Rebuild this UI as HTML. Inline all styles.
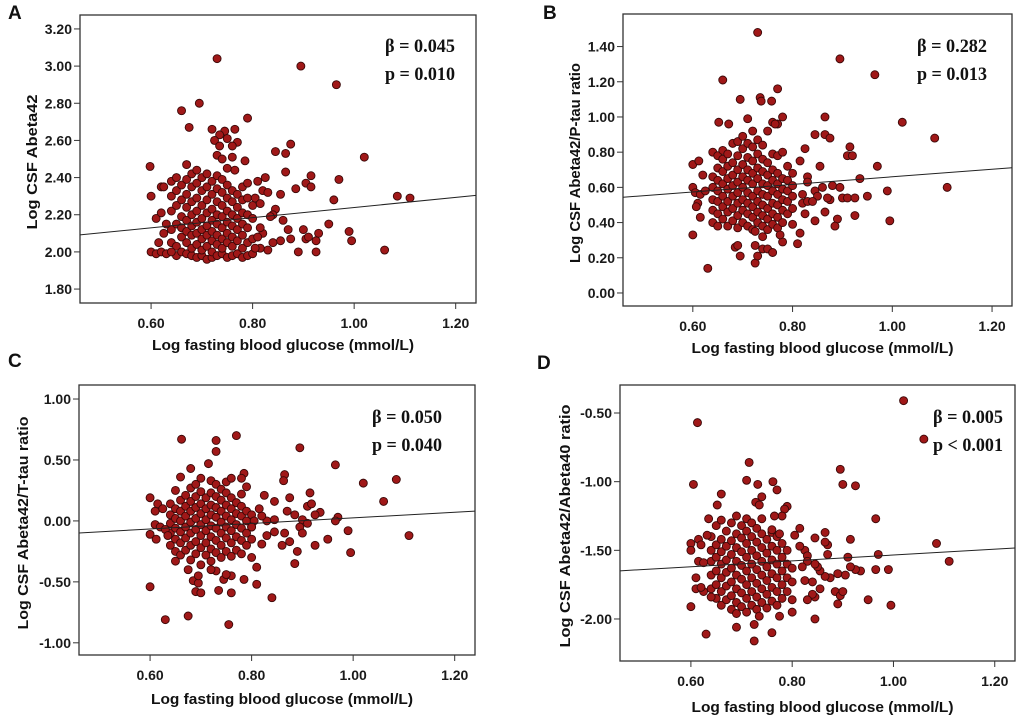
<!DOCTYPE html>
<html><head><meta charset="utf-8"><style>
html,body{margin:0;padding:0;background:#fff;}
svg{display:block;}
.tk{font-family:"Liberation Sans",sans-serif;font-weight:bold;font-size:14px;fill:#1a1a1a;}
.tt{font-family:"Liberation Sans",sans-serif;font-weight:bold;font-size:15px;fill:#111;}
.st{font-family:"Liberation Serif",serif;font-weight:bold;font-size:19px;fill:#111;}
.pl{font-family:"Liberation Sans",sans-serif;font-weight:bold;font-size:19px;fill:#111;}
</style></head><body>
<svg id="fig" width="1020" height="719" viewBox="0 0 1020 719"></svg>
<script>
// ---------- data ----------
const xTicks = [0.60, 0.80, 1.00, 1.20];
const xTickLabels = ["0.60", "0.80", "1.00", "1.20"];
const yTicksA = [1.80, 2.00, 2.20, 2.40, 2.60, 2.80, 3.00, 3.20];
const yTicksB = [0.00, 0.20, 0.40, 0.60, 0.80, 1.00, 1.20, 1.40];
const yTicksC = [-1.00, -0.50, 0.00, 0.50, 1.00];
const yTicksD = [-2.00, -1.50, -1.00, -0.50];
const fitA = [1.966, 0.273];
const fitB = [0.445, 0.215];
const fitC = [-0.204, 0.229];
const fitD = [-1.748, 0.214];
const statsA = ["β = 0.045", "p = 0.010"];
const statsB = ["β = 0.282", "p = 0.013"];
const statsC = ["β = 0.050", "p = 0.040"];
const statsD = ["β = 0.005", "p < 0.001"];

const pointsA = [[0.73,3.04],[0.895,3.00],[0.965,2.90],[0.66,2.76],[0.695,2.80],[0.79,2.72],[0.675,2.67],[0.72,2.66],[0.745,2.65],[0.765,2.66],[0.735,2.63],[0.75,2.61],[0.725,2.60],[0.77,2.59],[0.735,2.57],[0.76,2.57],[0.875,2.58],[0.845,2.54],[0.865,2.53],[1.02,2.51],[0.73,2.52],[0.76,2.51],[0.74,2.50],[0.785,2.49],[0.67,2.47],[0.598,2.46],[0.865,2.43],[0.765,2.44],[0.75,2.45],[0.915,2.41],[0.97,2.39],[0.825,2.40],[0.81,2.38],[0.79,2.37],[0.905,2.37],[0.915,2.35],[0.62,2.35],[0.885,2.34],[0.60,2.30],[0.855,2.31],[0.82,2.33],[0.83,2.32],[0.96,2.28],[1.085,2.30],[1.11,2.29],[0.805,2.29],[0.815,2.26],[0.845,2.23],[0.84,2.20],[0.835,2.19],[0.86,2.17],[0.95,2.15],[0.93,2.10],[0.90,2.12],[0.87,2.12],[0.99,2.11],[0.995,2.06],[0.905,2.07],[0.91,2.08],[0.875,2.07],[0.925,2.06],[0.855,2.06],[0.84,2.05],[0.89,2.00],[0.925,2.00],[1.06,2.01],[0.83,2.01],[0.815,2.02],[0.805,2.02],[0.82,2.10],[0.81,2.08],[0.815,2.13],[0.60,2.00],[0.61,1.99],[0.62,2.00],[0.63,1.99],[0.64,2.00],[0.615,2.05],[0.625,2.10],[0.61,2.18],[0.62,2.21],[0.63,2.15],[0.625,2.35]];
const coreA = [[0.64,[2.05,2.12,2.22,2.30,2.38]],[0.65,[1.98,2.03,2.15,2.25,2.33,2.40]],[0.66,[2.00,2.08,2.13,2.19,2.28,2.36]],[0.67,[1.99,2.05,2.11,2.17,2.24,2.31,2.39]],[0.68,[1.98,2.02,2.09,2.14,2.20,2.27,2.35,2.42]],[0.69,[1.97,2.04,2.10,2.16,2.22,2.29,2.37,2.44]],[0.70,[1.98,2.01,2.07,2.12,2.18,2.25,2.33,2.40]],[0.71,[1.96,2.03,2.09,2.14,2.21,2.28,2.35,2.42]],[0.72,[1.97,2.00,2.06,2.11,2.17,2.23,2.31,2.38]],[0.73,[1.98,2.04,2.09,2.15,2.20,2.27,2.34,2.41]],[0.74,[1.99,2.02,2.07,2.13,2.19,2.25,2.32,2.39]],[0.75,[1.97,2.05,2.10,2.16,2.22,2.29,2.36]],[0.76,[1.98,2.03,2.08,2.14,2.20,2.27,2.33]],[0.77,[1.99,2.06,2.12,2.18,2.24,2.31]],[0.78,[1.97,2.02,2.09,2.15,2.21,2.28,2.35]],[0.79,[1.98,2.05,2.13,2.20,2.29]],[0.80,[1.99,2.07,2.18,2.25]]];

const pointsB = [[0.73,1.48],[0.895,1.33],[0.965,1.24],[0.66,1.21],[0.77,1.16],[0.695,1.10],[0.735,1.11],[0.737,1.09],[0.758,1.09],[0.71,0.99],[0.78,1.00],[0.865,1.00],[0.652,0.97],[0.672,0.96],[0.76,0.97],[0.765,0.96],[1.02,0.97],[0.845,0.90],[0.865,0.90],[0.875,0.88],[1.085,0.88],[0.915,0.83],[0.91,0.78],[0.92,0.78],[0.825,0.82],[0.60,0.73],[0.612,0.75],[0.855,0.72],[0.97,0.72],[0.815,0.75],[0.935,0.65],[0.62,0.67],[0.95,0.55],[0.99,0.58],[1.11,0.60],[0.90,0.54],[0.91,0.54],[0.925,0.54],[0.875,0.53],[0.88,0.61],[0.895,0.60],[0.865,0.46],[0.845,0.41],[0.89,0.42],[0.885,0.38],[0.925,0.44],[0.995,0.41],[0.60,0.33],[0.825,0.45],[0.815,0.34],[0.81,0.28],[0.78,0.29],[0.775,0.33],[0.63,0.14],[0.725,0.17],[0.73,0.21],[0.695,0.21],[0.685,0.26],[0.69,0.27],[0.725,0.27],[0.74,0.25],[0.75,0.25],[0.76,0.23],[0.725,0.35],[0.74,0.32],[0.61,0.51],[0.607,0.49],[0.615,0.43],[0.60,0.60],[0.605,0.57],[0.615,0.56],[0.625,0.58],[0.83,0.66],[0.83,0.63],[0.845,0.58],[0.85,0.55],[0.86,0.60],[0.87,0.54],[0.82,0.56],[0.82,0.51],[0.83,0.52],[0.84,0.52]];
const coreB = [[0.64,[0.40,0.47,0.53,0.60,0.66,0.80]],[0.65,[0.38,0.45,0.52,0.58,0.64,0.71,0.78]],[0.66,[0.42,0.49,0.55,0.62,0.69,0.76,0.81]],[0.67,[0.38,0.46,0.52,0.59,0.65,0.72,0.79]],[0.68,[0.41,0.48,0.55,0.61,0.67,0.74,0.85]],[0.69,[0.37,0.44,0.51,0.57,0.63,0.70,0.78,0.86]],[0.70,[0.40,0.47,0.53,0.60,0.66,0.73,0.82,0.89]],[0.71,[0.38,0.45,0.51,0.57,0.64,0.70,0.77,0.85]],[0.72,[0.36,0.43,0.49,0.55,0.62,0.68,0.75,0.83,0.92]],[0.73,[0.40,0.46,0.52,0.58,0.65,0.71,0.79,0.87]],[0.74,[0.38,0.44,0.50,0.56,0.62,0.69,0.76,0.84]],[0.75,[0.36,0.42,0.48,0.55,0.61,0.67,0.74,0.92]],[0.76,[0.39,0.45,0.51,0.58,0.64,0.70,0.79]],[0.77,[0.37,0.43,0.50,0.56,0.62,0.68,0.78,0.96]],[0.78,[0.40,0.47,0.53,0.59,0.65,0.80]],[0.79,[0.45,0.52,0.58,0.64,0.72]],[0.80,[0.39,0.48,0.55,0.61,0.68]]];

const pointsC = [[0.662,0.67],[0.73,0.66],[0.77,0.70],[0.73,0.57],[0.895,0.60],[0.965,0.46],[0.715,0.47],[0.68,0.43],[1.02,0.31],[1.085,0.34],[1.06,0.16],[0.865,0.38],[0.863,0.33],[0.785,0.39],[0.78,0.35],[0.79,0.28],[0.915,0.23],[0.875,0.19],[0.825,0.21],[0.845,0.16],[0.91,0.12],[0.918,0.14],[0.87,0.08],[0.885,0.05],[0.935,0.07],[0.925,0.05],[0.97,0.03],[0.965,0.00],[0.90,0.01],[0.895,-0.05],[0.91,-0.02],[0.90,-0.10],[0.99,-0.08],[1.11,-0.12],[0.995,-0.26],[0.95,-0.15],[0.925,-0.20],[0.875,-0.17],[0.86,-0.20],[0.865,-0.10],[0.845,-0.09],[0.83,-0.12],[0.82,-0.19],[0.89,-0.25],[0.885,-0.35],[0.81,-0.38],[0.81,-0.52],[0.84,-0.63],[0.60,-0.54],[0.63,-0.81],[0.675,-0.78],[0.755,-0.85],[0.735,-0.57],[0.69,-0.58],[0.70,-0.59],[0.76,-0.59],[0.785,-0.48],[0.745,-0.48],[0.76,-0.45],[0.75,-0.44],[0.73,-0.41],[0.72,-0.40],[0.685,-0.49],[0.695,-0.51],[0.695,-0.45],[0.65,-0.33],[0.675,-0.40],[0.60,0.19],[0.61,0.08],[0.60,-0.11],[0.612,-0.15],[0.61,-0.03],[0.615,0.14],[0.625,0.10],[0.62,-0.05],[0.63,-0.07],[0.635,-0.12],[0.83,0.00],[0.845,0.01],[0.82,0.04],[0.805,0.00],[0.815,0.10],[0.80,-0.05]];
const coreC = [[0.64,[-0.20,-0.10,-0.02,0.05,0.14]],[0.65,[-0.25,-0.15,-0.06,0.02,0.10,0.25]],[0.66,[-0.28,-0.18,-0.09,0.00,0.08,0.17,0.36]],[0.67,[-0.24,-0.14,-0.05,0.04,0.12,0.21]],[0.68,[-0.32,-0.20,-0.10,-0.01,0.08,0.16,0.27]],[0.69,[-0.27,-0.17,-0.07,0.02,0.11,0.20,0.30]],[0.70,[-0.36,-0.22,-0.12,-0.03,0.06,0.14,0.24,0.35]],[0.71,[-0.28,-0.18,-0.08,0.01,0.10,0.19]],[0.72,[-0.33,-0.23,-0.13,-0.04,0.05,0.13,0.23,0.33]],[0.73,[-0.26,-0.16,-0.06,0.03,0.11,0.20,0.30]],[0.74,[-0.30,-0.20,-0.10,-0.01,0.08,0.17,0.26]],[0.75,[-0.25,-0.14,-0.05,0.04,0.13,0.23,0.32]],[0.76,[-0.29,-0.18,-0.08,0.01,0.10,0.19,0.35]],[0.77,[-0.24,-0.13,-0.03,0.06,0.15]],[0.78,[-0.27,-0.16,-0.06,0.04,0.12,0.22]],[0.79,[-0.20,-0.10,0.00,0.08]],[0.80,[-0.30,-0.15,-0.05,0.05]]];

const pointsD = [[1.02,-0.41],[0.613,-0.57],[1.06,-0.69],[0.715,-0.86],[0.895,-0.91],[0.90,-1.02],[0.925,-1.03],[0.605,-1.02],[0.71,-0.99],[0.732,-1.02],[0.762,-1.00],[0.77,-1.06],[0.74,-1.11],[0.728,-1.15],[0.735,-1.17],[0.66,-1.09],[0.652,-1.17],[0.965,-1.27],[0.635,-1.27],[0.632,-1.39],[0.60,-1.45],[0.60,-1.50],[0.615,-1.42],[0.62,-1.46],[0.615,-1.58],[0.625,-1.59],[0.60,-1.91],[0.63,-2.11],[0.69,-2.06],[0.725,-2.04],[0.725,-2.16],[0.76,-2.10],[0.775,-1.98],[0.735,-1.98],[0.845,-2.00],[0.80,-1.95],[0.845,-1.84],[0.84,-1.82],[0.855,-1.78],[0.84,-1.73],[0.885,-1.80],[0.895,-1.83],[0.90,-1.80],[0.89,-1.89],[0.95,-1.86],[0.995,-1.90],[0.99,-1.64],[0.965,-1.64],[0.935,-1.65],[0.925,-1.64],[0.915,-1.62],[0.91,-1.55],[0.905,-1.68],[0.89,-1.67],[0.875,-1.70],[0.865,-1.69],[0.855,-1.65],[0.85,-1.62],[0.845,-1.60],[0.87,-1.46],[0.865,-1.44],[0.865,-1.37],[0.915,-1.42],[0.97,-1.53],[0.87,-1.53],[0.845,-1.41],[0.815,-1.34],[0.805,-1.39],[1.085,-1.45],[1.11,-1.58],[0.825,-1.50],[0.83,-1.54],[0.83,-1.58],[0.82,-1.62],[0.815,-1.47],[0.825,-1.72],[0.83,-1.86],[0.79,-1.18],[0.785,-1.20],[0.78,-1.25],[0.765,-1.25],[0.76,-1.35],[0.775,-1.38],[0.64,-1.84],[0.625,-1.80],[0.61,-1.70],[0.61,-1.78],[0.62,-1.77]];
const coreD = [[0.64,[-1.78,-1.68,-1.58,-1.50,-1.40]],[0.65,[-1.85,-1.75,-1.65,-1.55,-1.46,-1.32]],[0.66,[-1.90,-1.80,-1.70,-1.60,-1.51,-1.42,-1.28]],[0.67,[-1.86,-1.76,-1.66,-1.57,-1.47,-1.36]],[0.68,[-1.93,-1.83,-1.73,-1.63,-1.53,-1.43,-1.30]],[0.69,[-1.96,-1.88,-1.78,-1.68,-1.58,-1.48,-1.38,-1.25]],[0.70,[-1.91,-1.81,-1.71,-1.61,-1.51,-1.41,-1.32]],[0.71,[-1.95,-1.85,-1.75,-1.65,-1.55,-1.45,-1.36,-1.27]],[0.72,[-1.90,-1.80,-1.70,-1.60,-1.50,-1.40,-1.30]],[0.73,[-1.93,-1.84,-1.74,-1.64,-1.54,-1.44,-1.34]],[0.74,[-1.88,-1.78,-1.68,-1.58,-1.48,-1.38,-1.27]],[0.75,[-1.92,-1.82,-1.72,-1.62,-1.52,-1.42]],[0.76,[-1.87,-1.77,-1.67,-1.57,-1.47,-1.37]],[0.77,[-1.90,-1.80,-1.70,-1.60,-1.50,-1.40]],[0.78,[-1.85,-1.75,-1.65,-1.55,-1.45]],[0.79,[-1.80,-1.70,-1.60,-1.50]],[0.80,[-1.86,-1.73,-1.63]]];

// ---------- layout ----------
const NS = "http://www.w3.org/2000/svg";
const svg = document.getElementById('fig');
function mk(tag, attrs, parent) {
  const e = document.createElementNS(NS, tag);
  for (const k in attrs) e.setAttribute(k, attrs[k]);
  (parent || svg).appendChild(e);
  return e;
}
const panels = [
  {id:'a', letter:'A', lx:8, ly:19, L:80, R:476, T:15, B:303, y0:1.725, y1:3.275, yt:yTicksA, dec:2, pts:pointsA, core:coreA, fit:fitA, stats:statsA, sx:385, sy:52,
   ytitle:'Log CSF Abeta42', ytx:32, ytl:135, xty:350},
  {id:'b', letter:'B', lx:543, ly:19, L:623, R:1012, T:14, B:306, y0:-0.074, y1:1.585, yt:yTicksB, dec:2, pts:pointsB, core:coreB, fit:fitB, stats:statsB, sx:917, sy:52,
   ytitle:'Log CSF Abeta42/P-tau ratio', ytx:575, ytl:200, xty:353},
  {id:'c', letter:'C', lx:8, ly:367, L:79, R:475, T:385, B:655, y0:-1.10, y1:1.115, yt:yTicksC, dec:2, pts:pointsC, core:coreC, fit:fitC, stats:statsC, sx:372, sy:423,
   ytitle:'Log CSF Abeta42/T-tau ratio', ytx:23, ytl:213, xty:704},
  {id:'d', letter:'D', lx:537, ly:369, L:620, R:1015, T:385, B:661, y0:-2.306, y1:-0.296, yt:yTicksD, dec:2, pts:pointsD, core:coreD, fit:fitD, stats:statsD, sx:933, sy:423,
   ytitle:'Log CSF Abeta42/Abeta40 ratio', ytx:565, ytl:243, xty:712}
];
const X0 = 0.46, X1 = 1.24;

panels.forEach(p => {
  const g = mk('g', {});
  
  
  const xs = v => p.L + (v - X0) / (X1 - X0) * (p.R - p.L);
  const ys = v => p.B - (v - p.y0) / (p.y1 - p.y0) * (p.B - p.T);

  const lt = mk('text', {x:p.lx, y:p.ly, class:'pl'}, g);
  lt.textContent = p.letter;
  
  

  const fr = mk('rect', {x:p.L, y:p.T, width:p.R-p.L, height:p.B-p.T, fill:'#fff', stroke:'#333', 'stroke-width':1.3}, g);
  
  

  xTicks.forEach((v, i) => {
    const x = xs(v);
    const t = mk('line', {x1:x, x2:x, y1:p.B, y2:p.B+6, stroke:'#333', 'stroke-width':1}, g);
    
    
    const tx = mk('text', {x:x, y:p.B+25, 'text-anchor':'middle', class:'tk'}, g);
    tx.textContent = xTickLabels[i];
    
    
  });
  p.yt.forEach(v => {
    const y = ys(v);
    const t = mk('line', {x1:p.L-6, x2:p.L, y1:y, y2:y, stroke:'#333', 'stroke-width':1}, g);
    
    
    const tx = mk('text', {x:p.L-8, y:y+5, 'text-anchor':'end', class:'tk'}, g);
    tx.textContent = v.toFixed(p.dec);
    
    
  });
  const xt = mk('text', {x:(p.L+p.R)/2 + 5, y:p.xty, 'text-anchor':'middle', class:'tt', textLength:262, lengthAdjust:'spacingAndGlyphs'}, g);
  xt.textContent = 'Log fasting blood glucose (mmol/L)';
  
  
  const cy = (p.T + p.B) / 2 + 3;
  const yt = mk('text', {x:p.ytx, y:cy, 'text-anchor':'middle', class:'tt', transform:`rotate(-90 ${p.ytx} ${cy})`, dy:5, textLength:p.ytl, lengthAdjust:'spacingAndGlyphs'}, g);
  yt.textContent = p.ytitle;
  
  

  const dg = mk('g', {}, g);
  
  
  const all = [];
  p.core.forEach(c => c[1].forEach(yv => all.push([c[0], yv])));
  p.pts.forEach(q => all.push(q));
  all.forEach(q => {
    const c = mk('circle', {cx:xs(q[0]), cy:ys(q[1]), r:4, fill:'#a01818', stroke:'#3a0808', 'stroke-width':0.9}, dg);
    
    
  });

  const fl = mk('line', {x1:xs(X0), y1:ys(p.fit[0]+p.fit[1]*X0), x2:xs(X1), y2:ys(p.fit[0]+p.fit[1]*X1), stroke:'#222', 'stroke-width':1}, g);
  
  

  p.stats.forEach((s, i) => {
    const st = mk('text', {x:p.sx, y:p.sy + i*28, class:'st', textLength:70, lengthAdjust:'spacingAndGlyphs'}, g);
    st.textContent = s;
    
    
  });
});
</script>
</body></html>
